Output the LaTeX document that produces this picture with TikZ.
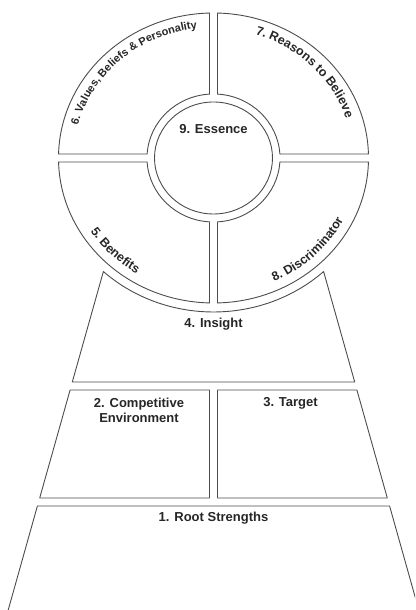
\documentclass[tikz,border=0pt]{standalone}
\usepackage{fontspec}
\setsansfont{Liberation Sans}
\usetikzlibrary{calc,decorations.text}
\newcommand\labelfont{\fontsize{13}{15}\selectfont\sffamily\bfseries}
\newcommand\curvefont{\fontsize{12.5}{15}\selectfont\sffamily\bfseries}
\newcommand\smallcurvefont{\fontsize{11}{13}\selectfont\sffamily\bfseries}

\begin{document}
\begin{tikzpicture}[x=1pt, y=1pt,
  panel/.style={draw=black!70, line width=0.9pt, line join=round},
  tag/.style={font=\labelfont, text=black!85, inner sep=0pt, anchor=base, align=center},
  curved/.style={decorate, decoration={text along path, text align=center,
                 text color=black!85, text={|\curvefont|#1}}},
  smallcurved/.style={decorate, decoration={text along path, text align=center,
                 text color=black!85, text={|\smallcurvefont|#1}}}]
\useasboundingbox (0,0) rectangle (415,610);
\clip (0,0) rectangle (415,610);
\coordinate (c) at (213.5,452);
% four quadrants of the ring
\foreach \sx/\sy in {1/1,-1/1,-1/-1,1/-1}
  \draw[panel, shift={(c)}, xscale=\sx, yscale=\sy]
    (4,144.95) -- (4,63.88) arc[start angle=86.55, end angle=3.58, x radius=66.5, y radius=64]
    -- (154.94,4) arc[start angle=1.58, end angle=88.52, x radius=155, y radius=145] -- cycle;
% core
\draw[panel] (c) ellipse[x radius=59, y radius=56];
% insight trapezoid under the ring
\draw[panel] ($(c)+(227.5:163pt and 154pt)$) coordinate (i1)
  arc[start angle=227.5, end angle=312.5, x radius=163, y radius=154] coordinate (i2)
  -- (354.7,228) -- (72.3,228) -- cycle;
% second row
\draw[panel] (70.1,220) -- (209.5,220) -- (209.5,112) -- (39.7,112) -- cycle;
\draw[panel] (217.5,220) -- (356.9,220) -- (387.3,112) -- (217.5,112) -- cycle;
% base
\draw[panel] (37.4,104) -- (389.6,104) -- (420.2,-5) -- (6.8,-5) -- cycle;
% labels
\node[tag] (essence) at (213.5,476) {9. Essence};
\node[tag] (insight) at (213.5,282) {4. Insight};
\node[tag, anchor=north] (compet) at (139,212.5) {2. Competitive\\Environment};
\node[tag] (target) at (290.5,203) {3. Target};
\node[tag] (root) at (213.5,88) {1. Root Strengths};
% curved labels
\path[smallcurved={6. Values, Beliefs {\&} Personality}]
  ($(c)+(192:140pt and 130.5pt)$) arc[start angle=192, end angle=72, x radius=140, y radius=130.5];
\path[curved={7. Reasons to Believe}]
  ($(c)+(104:139pt and 129.5pt)$) arc[start angle=104, end angle=-16, x radius=139, y radius=129.5];
\path[curved={5. Benefits}]
  ($(c)+(164:146pt and 136pt)$) arc[start angle=164, end angle=284, x radius=146, y radius=136];
\path[curved={8. Discriminator}]
  ($(c)+(255:146pt and 136pt)$) arc[start angle=255, end angle=375, x radius=146, y radius=136];
\end{tikzpicture}
\end{document}
